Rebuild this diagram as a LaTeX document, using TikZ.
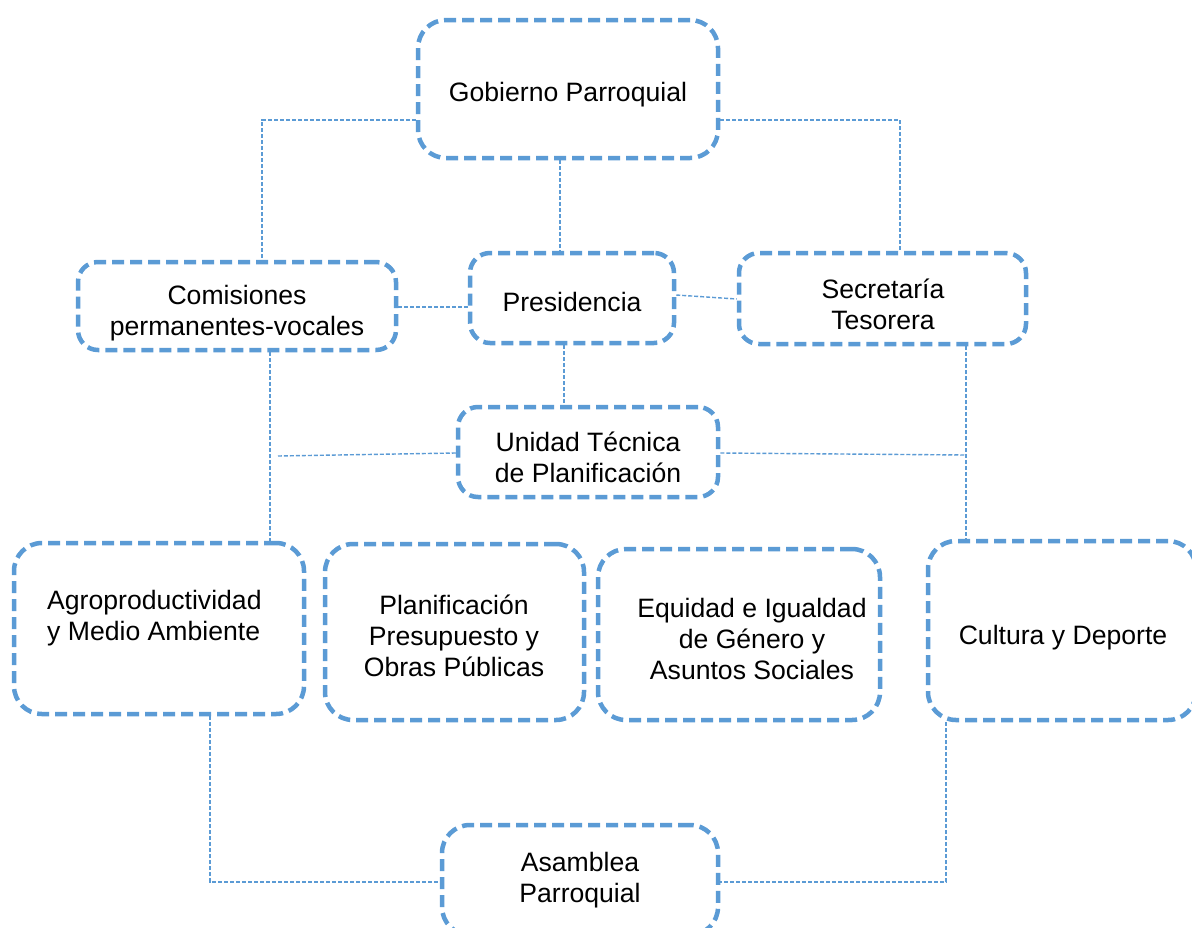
\documentclass[tikz,border=0pt]{standalone}
\usepackage{fontspec}
\setmainfont{Liberation Sans}
\definecolor{boxblue}{HTML}{5B9BD5}
\tikzset{
  box/.style={draw=boxblue, line width=4.5pt, dash pattern=on 12pt off 6pt,
    rounded corners=20pt, inner sep=0pt},
  bigbox/.style={box, rounded corners=28pt},
  conn/.style={draw=boxblue, line width=1.4pt, dash pattern=on 4pt off 2pt},
  lbl/.style={font=\fontsize{26.6}{31}\selectfont, align=center, inner sep=0pt},
}
\begin{document}
\begin{tikzpicture}[x=1pt,y=-1pt]
\fill[white] (0,0) rectangle (1192,927);
\useasboundingbox (0,0) rectangle (1192,927);
\clip (0,0) rectangle (1192,927);
% boxes
\node[bigbox, minimum width=300pt, minimum height=138pt] (gob) at (568,89) {};
\node[box, minimum width=318pt, minimum height=88pt] (com) at (237,306) {};
\node[box, minimum width=204pt, minimum height=90pt] (pres) at (572,298) {};
\node[box, minimum width=287pt, minimum height=91pt] (sec) at (882.5,298.5) {};
\node[box, minimum width=260pt, minimum height=90pt] (uni) at (588,452) {};
\node[bigbox, minimum width=290pt, minimum height=171pt] (agro) at (159,628.5) {};
\node[bigbox, minimum width=259pt, minimum height=176pt] (plan) at (454.5,632) {};
\node[bigbox, minimum width=282pt, minimum height=171pt] (equi) at (739,634.5) {};
\node[bigbox, minimum width=268pt, minimum height=179pt] (cult) at (1062,630.5) {};
\node[bigbox, minimum width=276pt, minimum height=110pt] (asam) at (580,880) {};
% labels
\node[lbl] (tgob) at (568,95) {Gobierno Parroquial};
\node[lbl] (tcom) at (237,313) {Comisiones\\permanentes-vocales};
\node[lbl] (tpres) at (572,302) {Presidencia};
\node[lbl] (tsec) at (883,304) {Secretaría\\Tesorera};
\node[lbl] (tuni) at (588,457) {Unidad Técnica\\de Planificación};
\node[lbl, align=left, anchor=west] (tagro) at (47,618) {Agroproductividad\\y Medio Ambiente};
\node[lbl] (tplan) at (454,636) {Planificación\\Presupuesto y\\Obras Públicas};
\node[lbl] (tequi) at (752,639) {Equidad e Igualdad\\de Género y\\Asuntos Sociales};
\node[lbl] (tcult) at (1063,638) {Cultura y Deporte};
\node[lbl] (tasam) at (580,880) {Asamblea\\Parroquial};
% connectors
\coordinate (ul) at (278,456);
\coordinate (ur) at (966,455);
\draw[conn] (gob.west |- 0,120) -| (com.north -| 262,0);
\draw[conn] (gob.east |- 0,120) -| (sec.north -| 900,0);
\draw[conn] (gob.south -| 560,0) -- (pres.north -| 560,0);
\draw[conn] (com.east |- 0,307) -- (pres.west |- 0,307);
\draw[conn] (pres.east |- 0,295) -- (sec.west |- 0,299);
\draw[conn] (pres.south -| 564,0) -- (uni.north -| 564,0);
\draw[conn] (com.south -| 270,0) -- (agro.north -| 270,0);
\draw[conn] (uni.west |- 0,453) -- (ul);
\draw[conn] (uni.east |- 0,453) -- (ur);
\draw[conn] (sec.south -| 966,0) -- (cult.north -| 966,0);
\draw[conn] (agro.south -| 210,0) |- (asam.west |- 0,882);
\draw[conn] (cult.south -| 946,0) |- (asam.east |- 0,882);
\end{tikzpicture}
\end{document}
